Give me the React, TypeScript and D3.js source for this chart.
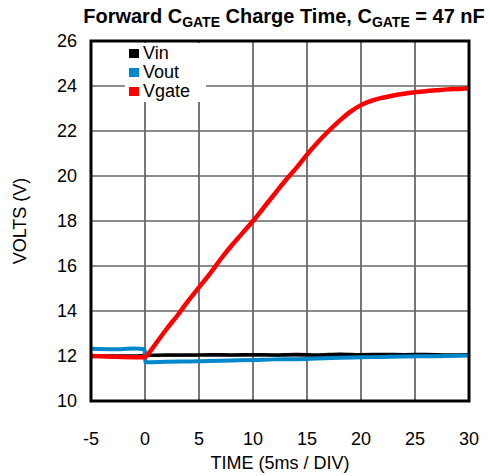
import React from "react";
import * as d3 from "d3";

// Time axis in 5 ms divisions, volts on the y axis
const xTicks = [-5, 0, 5, 10, 15, 20, 25, 30];
const yTicks = [10, 12, 14, 16, 18, 20, 22, 24, 26];

const vinT = [-5, -3, -1, 0, 2, 4, 6, 8, 10, 12, 14, 16, 18, 20, 22, 24, 26, 28, 30];
const vinV = [12.0, 12.0, 12.0, 12.02, 12.05, 12.04, 12.06, 12.05, 12.06, 12.05, 12.07, 12.05, 12.08, 12.06, 12.07, 12.06, 12.07, 12.05, 12.06];

const voutT = [-5, -3, -1, -0.05, 0.05, 2, 4, 6, 8, 10, 12, 14, 16, 18, 20, 22, 24, 26, 28, 30];
const voutV = [12.32, 12.3, 12.33, 12.3, 11.72, 11.74, 11.76, 11.78, 11.8, 11.82, 11.85, 11.86, 11.89, 11.92, 11.94, 11.96, 11.98, 11.99, 12.0, 12.02];

const vgateT = [-5, -3, -1, 0, 0.3, 1, 2, 3, 4, 5, 6, 7, 8, 9, 10, 11, 12, 13, 14, 15, 16, 17, 18, 19, 20, 21, 22, 23, 24, 25, 26, 27, 28, 29, 30];
const vgateV = [12.0, 11.97, 11.95, 11.95, 12.1, 12.55, 13.2, 13.8, 14.45, 15.05, 15.65, 16.3, 16.9, 17.45, 18.0, 18.6, 19.2, 19.8, 20.35, 20.95, 21.5, 22.0, 22.45, 22.85, 23.15, 23.35, 23.48, 23.58, 23.66, 23.72, 23.77, 23.81, 23.85, 23.87, 23.9];

const seriesNames = ["Vin", "Vout", "Vgate"];
const seriesColors = ["#000000", "#0088cc", "#ff0000"];

const W = 490;
const H = 476;
const M = { left: 91, right: 469, top: 41, bottom: 401 };
const FONT = "'Liberation Sans', Arial, sans-serif";

export default function App() {
  const x = d3.scaleLinear().domain([-5, 30]).range([M.left, M.right]);
  const y = d3.scaleLinear().domain([10, 26]).range([M.bottom, M.top]);

  const line = d3
    .line<[number, number]>()
    .x((d) => x(d[0]))
    .y((d) => y(d[1]))
    .curve(d3.curveMonotoneX);

  const series = [
    { t: vinT, v: vinV, w: 3.5 },
    { t: voutT, v: voutV, w: 4 },
    { t: vgateT, v: vgateV, w: 4.5 },
  ];

  return (
    <svg
      width={W}
      height={H}
      style={{ position: "absolute", left: 0, top: 0, background: "#fff" }}
      fontFamily={FONT}
    >
      <text x={284} y={23} textAnchor="middle" fontWeight="bold" fontSize={20}>
        Forward C<tspan fontSize={14} dy={4}>GATE</tspan>
        <tspan dy={-4}> Charge Time, C</tspan>
        <tspan fontSize={14} dy={4}>GATE</tspan>
        <tspan dy={-4}> = 47 nF</tspan>
      </text>

      {/* grid */}
      {xTicks.slice(1, -1).map((t) => (
        <line key={"gx" + t} x1={x(t)} x2={x(t)} y1={M.top} y2={M.bottom} stroke="#777" strokeWidth={2} />
      ))}
      {yTicks.slice(1, -1).map((t) => (
        <line key={"gy" + t} x1={M.left} x2={M.right} y1={y(t)} y2={y(t)} stroke="#666" strokeWidth={1.5} />
      ))}

      {/* legend */}
      <rect x={125} y={43} width={81} height={59} fill="#fff" />
      {seriesNames.map((n, i) => (
        <g key={n}>
          <rect x={129} y={49 + i * 19} width={10} height={9} fill={seriesColors[i]} />
          <text x={143} y={59 + i * 19} fontSize={18}>
            {n}
          </text>
        </g>
      ))}

      {/* traces */}
      {series.map((s, i) => (
        <path
          key={i}
          d={line(s.t.map((t, j) => [t, s.v[j]] as [number, number])) || ""}
          fill="none"
          stroke={seriesColors[i]}
          strokeWidth={s.w}
          strokeLinejoin="round"
        />
      ))}

      {/* frame */}
      <rect
        x={M.left}
        y={M.top}
        width={M.right - M.left}
        height={M.bottom - M.top}
        fill="none"
        stroke="#000"
        strokeWidth={3}
      />

      {/* axis labels */}
      {yTicks.map((t) => (
        <text key={"yl" + t} x={77} y={y(t) + 6} textAnchor="end" fontSize={18}>
          {t}
        </text>
      ))}
      {xTicks.map((t) => (
        <text key={"xl" + t} x={x(t)} y={445} textAnchor="middle" fontSize={18}>
          {t}
        </text>
      ))}
      <text x={280} y={469} textAnchor="middle" fontSize={18}>
        TIME (5ms / DIV)
      </text>
      <text
        transform={`translate(26, ${(M.top + M.bottom) / 2}) rotate(-90)`}
        textAnchor="middle"
        fontSize={18}
      >
        VOLTS (V)
      </text>
    </svg>
  );
}
